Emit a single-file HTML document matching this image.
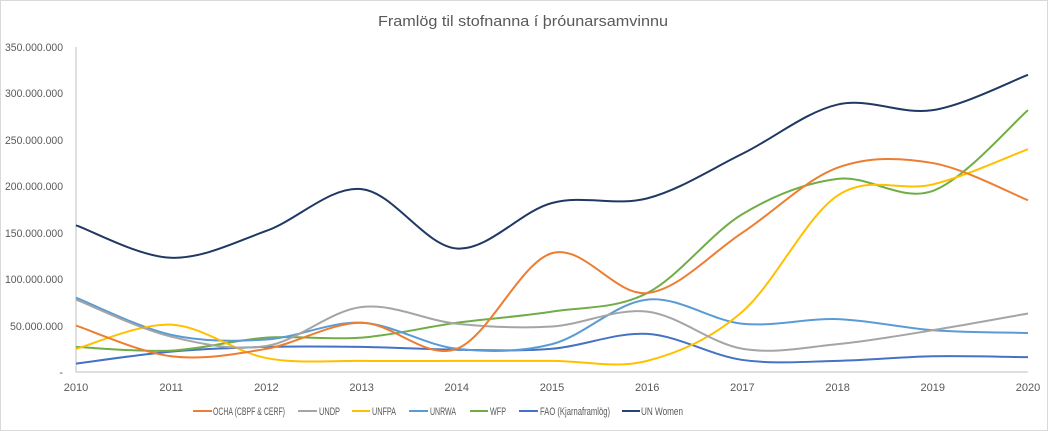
<!DOCTYPE html>
<html><head><meta charset="utf-8"><style>
body{margin:0;background:#fff}
svg{display:block;font-family:"Liberation Sans",sans-serif}
</style></head><body>
<svg id="c" width="1048" height="431" xmlns="http://www.w3.org/2000/svg">
<rect x="0.5" y="0.5" width="1047" height="430" fill="#fff" stroke="#d9d9d9"/>
<text x="523" y="26" text-anchor="middle" font-size="15" fill="#595959" textLength="290" lengthAdjust="spacingAndGlyphs">Framlög til stofnanna í þróunarsamvinnu</text>
<g font-size="11" fill="#595959" text-anchor="end">
<text x="63" y="51" textLength="58" lengthAdjust="spacingAndGlyphs">350.000.000</text>
<text x="63" y="97" textLength="58" lengthAdjust="spacingAndGlyphs">300.000.000</text>
<text x="63" y="144" textLength="58" lengthAdjust="spacingAndGlyphs">250.000.000</text>
<text x="63" y="190" textLength="58" lengthAdjust="spacingAndGlyphs">200.000.000</text>
<text x="63" y="237" textLength="58" lengthAdjust="spacingAndGlyphs">150.000.000</text>
<text x="63" y="283" textLength="58" lengthAdjust="spacingAndGlyphs">100.000.000</text>
<text x="63" y="330" textLength="53" lengthAdjust="spacingAndGlyphs">50.000.000</text>
<text x="63" y="376">-</text>
</g>
<line x1="76" y1="47" x2="76" y2="372" stroke="#bfbfbf"/>
<line x1="76" y1="372" x2="1028" y2="372" stroke="#bfbfbf"/>
<g id="xl" font-size="11" fill="#595959" text-anchor="middle"></g>
<g id="series" fill="none" stroke-width="2"></g>
<g font-size="11" fill="#595959" lengthAdjust="spacingAndGlyphs">
<line x1="193" y1="411" x2="212" y2="411" stroke="#ED7D31" stroke-width="2"/><text x="213" y="415" textLength="72" lengthAdjust="spacingAndGlyphs">OCHA (CBPF &amp; CERF)</text>
<line x1="298" y1="411" x2="317" y2="411" stroke="#A5A5A5" stroke-width="2"/><text x="319" y="415" textLength="21" lengthAdjust="spacingAndGlyphs">UNDP</text>
<line x1="352" y1="411" x2="370" y2="411" stroke="#FFC000" stroke-width="2"/><text x="372" y="415" textLength="24" lengthAdjust="spacingAndGlyphs">UNFPA</text>
<line x1="409" y1="411" x2="428" y2="411" stroke="#5B9BD5" stroke-width="2"/><text x="430" y="415" textLength="26" lengthAdjust="spacingAndGlyphs">UNRWA</text>
<line x1="470" y1="411" x2="488" y2="411" stroke="#70AD47" stroke-width="2"/><text x="490" y="415" textLength="16" lengthAdjust="spacingAndGlyphs">WFP</text>
<line x1="519" y1="411" x2="538" y2="411" stroke="#4472C4" stroke-width="2"/><text x="540" y="415" textLength="70" lengthAdjust="spacingAndGlyphs">FAO (Kjarnaframlög)</text>
<line x1="622" y1="411" x2="640" y2="411" stroke="#264478" stroke-width="2"/><text x="641" y="415" textLength="42" lengthAdjust="spacingAndGlyphs">UN Women</text>
</g>
</svg>
<script>
var X=function(i){return 76+i*95.2},Y=function(v){return 372-v*325/350};
var xl=document.getElementById('xl');
for(var i=0;i<11;i++){var t=document.createElementNS('http://www.w3.org/2000/svg','text');t.setAttribute('x',X(i));t.setAttribute('y',391);t.textContent=2010+i;xl.appendChild(t);}
var S=[
['#4472C4',[9,22,27,27,24,25,41,13,12,17,16]],
['#70AD47',[27,23,37,37,53,65,85,170,208,195,282]],
['#5B9BD5',[80,40,35,53,25,30,78,52,57,45,42]],
['#FFC000',[25,51,15,12,12,12,12,65,190,202,240]],
['#A5A5A5',[78,38,28,70,52,49,65,25,30,45,63]],
['#ED7D31',[50,17,25,53,25,128,85,150,220,225,185]],
['#203864',[158,123,152,197,133,182,187,235,288,282,320]]];
var g=document.getElementById('series');
S.forEach(function(s){
 var p=s[1].map(function(v,i){return [X(i),Y(v)]});
 var d='M'+p[0][0]+','+p[0][1];
 for(var i=0;i<p.length-1;i++){
  var p0=p[Math.max(0,i-1)],p1=p[i],p2=p[i+1],p3=p[Math.min(p.length-1,i+2)],k=1/6;
  d+=' C'+(p1[0]+(p2[0]-p0[0])*k)+','+(p1[1]+(p2[1]-p0[1])*k)+' '+(p2[0]-(p3[0]-p1[0])*k)+','+(p2[1]-(p3[1]-p1[1])*k)+' '+p2[0]+','+p2[1];
 }
 var e=document.createElementNS('http://www.w3.org/2000/svg','path');e.setAttribute('d',d);e.setAttribute('stroke',s[0]);g.appendChild(e);
});
</script>
</body></html>
